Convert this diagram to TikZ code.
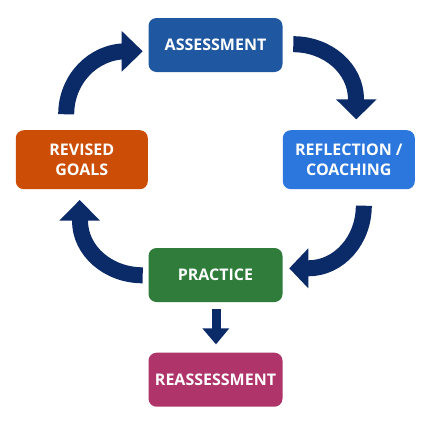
\documentclass[tikz,border=0pt]{standalone}
\usepackage{fontspec}
\setmainfont{Open Sans}
\definecolor{navy}{HTML}{0B2A68}
\definecolor{cassess}{HTML}{1F58A1}
\definecolor{creflect}{HTML}{2B77DD}
\definecolor{crevised}{HTML}{CC4D05}
\definecolor{cpractice}{HTML}{2F7C3B}
\definecolor{creassess}{HTML}{AE3469}
\begin{document}
\begin{tikzpicture}[x=1pt,y=1pt,yscale=-1,
  box/.style={rounded corners=8pt, text=white, font=\bfseries\fontsize{16}{20}\selectfont,
    align=center, inner sep=0pt, minimum width=134pt, minimum height=54pt},
  shaft/.style={draw=navy, line width=16pt},
  head/.style={fill=navy}]
\fill[white] (0,0) rectangle (431,431);
\useasboundingbox (0,0) rectangle (431,431);
% boxes
\node[box, fill=cassess] (as) at (215.5,45) {ASSESSMENT};
\node[box, fill=creflect, minimum width=132pt, minimum height=59pt] (rc) at (348.8,159.7) {REFLECTION /\\COACHING};
\node[box, fill=crevised, minimum width=132pt, minimum height=59pt] (rg) at (81.8,159.7) {REVISED\\GOALS};
\node[box, fill=cpractice] (pr) at (215.5,275) {PRACTICE};
\node[box, fill=creassess] (re) at (215.5,379.7) {REASSESSMENT};
% arrow revised -> assessment
\draw[shaft] (66.2,114.3) arc[start angle=180, end angle=270, x radius=60, y radius=63] -- ++(4,0);
\fill[head] (121.7,31) -- (142.7,51.3) -- (121.7,71.7) -- cycle;
% arrow assessment -> reflection
\draw[shaft] (293.3,44.2) arc[start angle=270, end angle=360, x radius=62.7, y radius=55.1] -- ++(0,4);
\fill[head] (336,99.3) -- (356.3,119.3) -- (376.7,99.3) -- cycle;
% arrow reflection -> practice
\draw[shaft] (363.8,205.7) arc[start angle=0, end angle=90, x radius=55.5, y radius=62.6] -- ++(-4,0);
\fill[head] (308.3,248.3) -- (289.3,268.3) -- (308.3,288.3) -- cycle;
% arrow practice -> revised
\draw[shaft] (142.7,275.3) arc[start angle=90, end angle=180, x radius=62.7, y radius=54.6] -- ++(0,-4);
\fill[head] (59.3,220.7) -- (79.7,200) -- (100,220.7) -- cycle;
% arrow practice -> reassessment
\fill[head] (211.7,309.3) rectangle (220.7,329);
\fill[head] (202.3,328.3) -- (216,344.3) -- (229.3,328.3) -- cycle;
\end{tikzpicture}
\end{document}
